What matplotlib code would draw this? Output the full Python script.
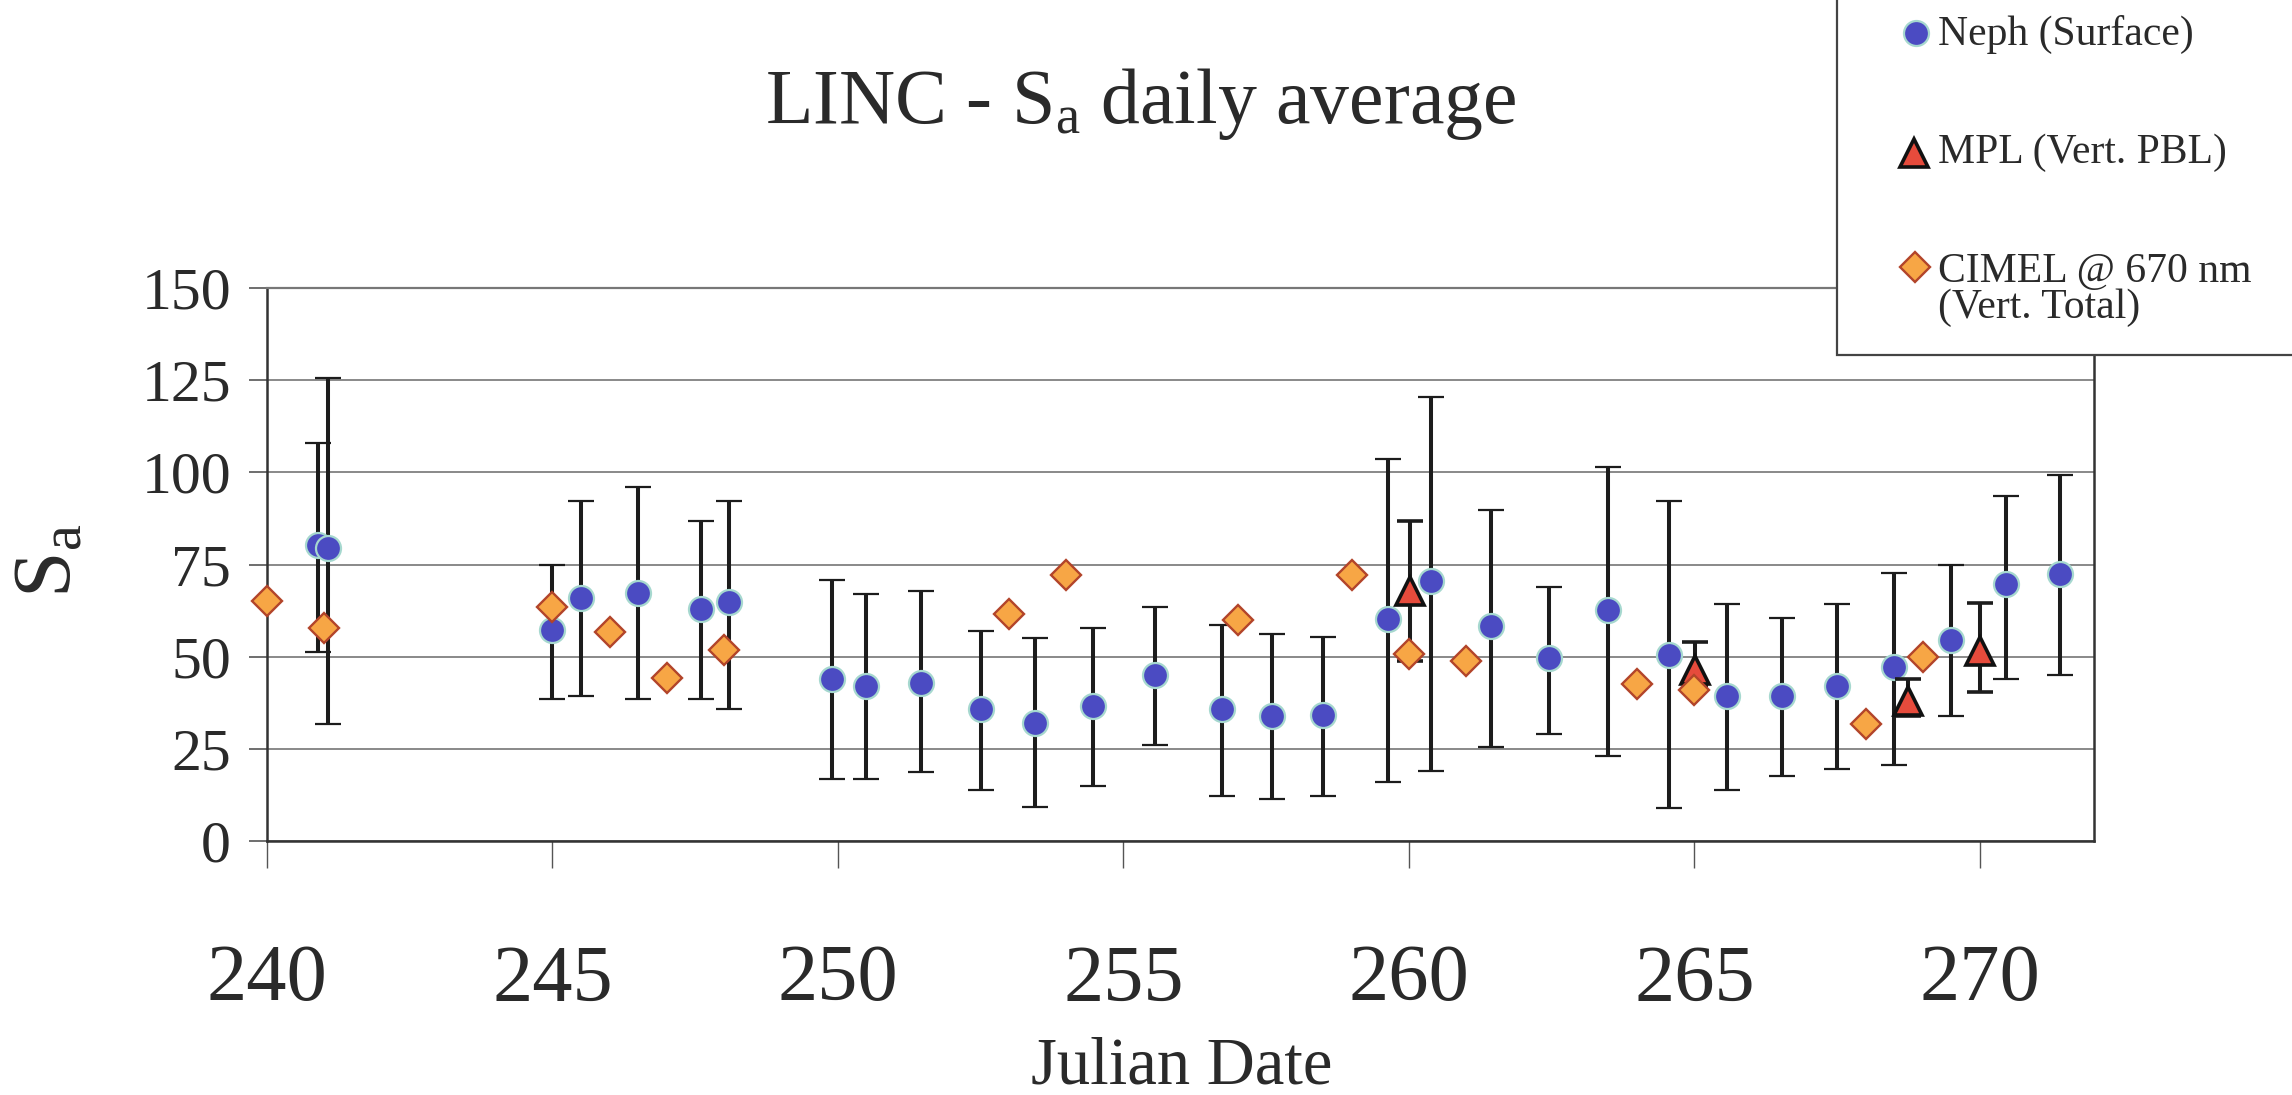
import matplotlib
matplotlib.use("Agg")
import matplotlib.pyplot as plt
from matplotlib.lines import Line2D
from matplotlib.patches import Rectangle
import numpy as np

plt.rcParams['font.family'] = ['Liberation Serif', 'DejaVu Serif']
plt.rcParams['mathtext.fontset'] = 'custom'
plt.rcParams['mathtext.rm'] = 'Liberation Serif'
plt.rcParams['mathtext.it'] = 'Liberation Serif:italic'

# ---- data ----
neph_day = [240.9, 241.07, 245.0, 245.5, 246.5, 247.6, 248.1, 249.9, 250.5, 251.45,
            252.5, 253.46, 254.47, 255.55, 256.73, 257.6, 258.49, 259.63, 260.38, 261.44,
            262.46, 263.48, 264.55, 265.57, 266.53, 267.49, 268.49, 269.49, 270.45, 271.4]
neph_sa = [80.2, 79.4, 57.1, 65.8, 67.2, 63.0, 64.8, 43.9, 42.0, 42.9,
           35.8, 31.9, 36.6, 45.0, 35.8, 33.9, 34.1, 60.2, 70.4, 58.3,
           49.6, 62.6, 50.5, 39.2, 39.2, 42.0, 47.1, 54.4, 69.6, 72.5]
neph_low = [51.2, 31.8, 38.5, 39.3, 38.5, 38.5, 35.7, 16.7, 16.7, 18.7,
            13.9, 9.1, 14.8, 26.0, 12.2, 11.3, 12.2, 16.1, 18.9, 25.5,
            29.0, 23.1, 9.0, 13.8, 17.7, 19.4, 20.5, 33.9, 44.0, 45.0]
neph_high = [108.0, 125.6, 74.9, 92.2, 96.1, 86.9, 92.2, 70.7, 67.0, 67.9,
             57.0, 55.0, 57.8, 63.4, 58.7, 56.1, 55.2, 103.7, 120.3, 89.9,
             69.0, 101.5, 92.2, 64.3, 60.6, 64.3, 72.8, 74.9, 93.6, 99.2]

mpl_day = [260.02, 265.01, 268.75, 270.0]
mpl_sa = [67.9, 46.5, 38.0, 51.6]
mpl_low = [48.8, 42.0, 33.9, 40.3]
mpl_high = [86.8, 54.1, 44.0, 64.6]

cimel_day = [240, 241, 245, 246, 247, 248, 253, 254, 257, 259, 260, 261, 264, 265, 268, 269]
cimel_sa = [65.2, 57.7, 63.6, 56.8, 44.1, 51.7, 61.7, 72.1, 60.0, 72.1, 50.7, 48.8, 42.6, 40.9, 31.8, 49.9]

x_ticks = [240, 245, 250, 255, 260, 265, 270]
y_ticks = [0, 25, 50, 75, 100, 125, 150]

title_text = r'LINC - S$_\mathrm{a}$ daily average'
ylabel_text = r'S$_\mathrm{a}$'
xlabel_text = 'Julian Date'
legend_labels = ['Neph (Surface)', 'MPL (Vert. PBL)', 'CIMEL @ 670 nm', '(Vert. Total)']

# ---- figure ----
W, H = 2292, 1095
fig = plt.figure(figsize=(W / 100, H / 100), dpi=100)
fig.patch.set_facecolor('white')

def fx(px):
    return px / W

def fy(py):
    return 1 - py / H

L, R, T, B = 267, 2094, 288, 841
ax = fig.add_axes([fx(L), fy(B), fx(R) - fx(L), fy(T) - fy(B)])

txt = '#2a2a2a'
blue_fc = '#4B4BC2'
blue_ec = '#A6D8CF'
orange_fc = '#F7A645'
orange_ec = '#B2442A'
red_fc = '#E64B3C'
err_c = '#1c1c1c'

circ_ms, tri_ms, dia_ms = 18, 20, 15.5

nd = np.array(neph_day); ns = np.array(neph_sa)
ax.errorbar(nd, ns, yerr=[ns - np.array(neph_low), np.array(neph_high) - ns],
            fmt='o', ms=circ_ms, mfc=blue_fc, mec=blue_ec, mew=1.6,
            ecolor=err_c, elinewidth=2.9, capsize=9.5, capthick=2.6, zorder=3)
md = np.array(mpl_day); ms_ = np.array(mpl_sa)
ax.errorbar(md, ms_, yerr=[ms_ - np.array(mpl_low), np.array(mpl_high) - ms_],
            fmt='^', ms=tri_ms, mfc=red_fc, mec='#111111', mew=2.6,
            ecolor=err_c, elinewidth=2.9, capsize=9.5, capthick=2.6, zorder=4)
ax.plot(cimel_day, cimel_sa, 'D', ms=dia_ms, mfc=orange_fc, mec=orange_ec, mew=1.7,
        zorder=5, clip_on=False)

ax.set_xlim(240, 272)
ax.set_ylim(0, 150)
ax.set_xticks(x_ticks)
ax.set_yticks(y_ticks)
ax.set_xticklabels([str(v) for v in x_ticks], fontsize=58, color=txt)
ax.set_yticklabels([str(v) for v in y_ticks], fontsize=43, color=txt)
ax.tick_params(axis='x', direction='out', length=19.5, width=1.0, color='#555555', pad=55)
ax.tick_params(axis='y', direction='out', length=13, width=1.2, color='#555555', pad=13)
ax.yaxis.grid(True, color='#6a6a6a', lw=1.1)
ax.set_axisbelow(True)
for s in ['left', 'bottom', 'right']:
    ax.spines[s].set_color('#333333')
    ax.spines[s].set_linewidth(1.8)
ax.spines['top'].set_color('#777777')
ax.spines['top'].set_linewidth(1.6)

# titles / labels
fig.text(fx(1141), fy(123), title_text, fontsize=56, color=txt, ha='center', va='baseline')
fig.text(fx(1182), fy(1083), xlabel_text, fontsize=48, color=txt, ha='center', va='baseline')
fig.text(fx(50), fy(561), ylabel_text, fontsize=60, color=txt, ha='center', va='center', rotation=90)

# legend box (drawn manually)
fig.add_artist(Rectangle((fx(1837), fy(355)), 1.0, 1.0, transform=fig.transFigure,
                         facecolor='white', edgecolor='#444444', lw=1.6, zorder=20))
fig.add_artist(Line2D([fx(1916)], [fy(33)], marker='o', ms=circ_ms, mfc=blue_fc, mec=blue_ec, mew=1.6,
                      ls='none', transform=fig.transFigure, zorder=21))
fig.add_artist(Line2D([fx(1914)], [fy(153)], marker='^', ms=tri_ms, mfc=red_fc, mec='#111111', mew=2.6,
                      ls='none', transform=fig.transFigure, zorder=21))
fig.add_artist(Line2D([fx(1915)], [fy(267)], marker='D', ms=dia_ms, mfc=orange_fc, mec=orange_ec, mew=1.7,
                      ls='none', transform=fig.transFigure, zorder=21))
legend_base = [45, 163, 282, 318]
for lab, by in zip(legend_labels, legend_base):
    fig.text(fx(1938), fy(by), lab, fontsize=30, color=txt, ha='left', va='baseline', zorder=22)

fig.savefig('out.png', dpi=100, facecolor='white')
